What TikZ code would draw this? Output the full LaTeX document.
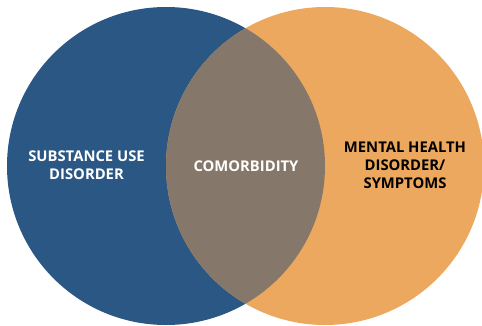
\documentclass[tikz,border=0pt]{standalone}
\usepackage{fontspec}
\setsansfont{Open Sans}
\usetikzlibrary{calc}
\definecolor{sudblue}{RGB}{42, 87, 132}
\definecolor{mhorange}{RGB}{237, 168, 95}
\definecolor{overlap}{RGB}{133, 119, 106}
\tikzset{
    label text/.style = {font=\sffamily\bfseries\fontsize{14.8}{17.8}\selectfont, align=center}
}

\begin{document}
\begin{tikzpicture}[x=1pt, y=1pt]

    \useasboundingbox (0,0) rectangle (482,325);

    \coordinate (sud) at (166,159);
    \coordinate (mh) at (325,159);

    \fill[sudblue] (sud) circle (159);
    \fill[mhorange] (mh) circle (159);

    % Schnittmenge
    \begin{scope}
        \clip (sud) circle (159);
        \fill[overlap] (mh) circle (159);
    \end{scope}

    \node[label text, white] (sudtext) at (86.5,160) {SUBSTANCE USE\\DISORDER};
    \node[label text, white] (comtext) at (246,159) {COMORBIDITY};
    \node[label text, black] (mhtext) at (405,160) {MENTAL HEALTH\\DISORDER/\\SYMPTOMS};

\end{tikzpicture}
\end{document}
